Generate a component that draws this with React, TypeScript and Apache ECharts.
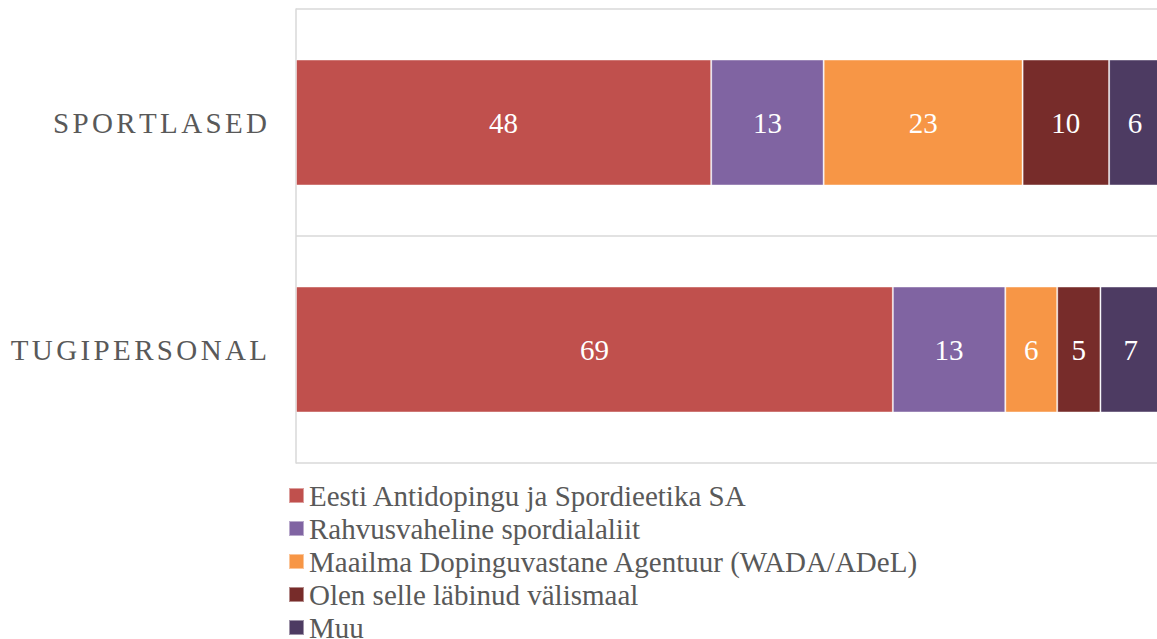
import React, { useEffect, useRef } from "react";
import * as echarts from "echarts";

const categories = ["SPORTLASED", "TUGIPERSONAL"];
const seriesNames = [
  "Eesti Antidopingu ja Spordieetika SA",
  "Rahvusvaheline spordialaliit",
  "Maailma Dopinguvastane Agentuur (WADA/ADeL)",
  "Olen selle läbinud välismaal",
  "Muu",
];
const eadsValues = [48, 69];
const alaliitValues = [13, 13];
const wadaValues = [23, 6];
const valismaalValues = [10, 5];
const muuValues = [6, 7];
const colors = ["#C0504D", "#8064A2", "#F79646", "#772C2A", "#4D3B62"];

const FONT = "'Liberation Serif', 'Times New Roman', serif";

export default function App() {
  const ref = useRef<HTMLDivElement>(null);
  useEffect(() => {
    if (!ref.current) return;
    const chart = echarts.init(ref.current, undefined, { renderer: "svg" });
    const allValues = [eadsValues, alaliitValues, wadaValues, valismaalValues, muuValues];
    chart.setOption({
      animation: false,
      textStyle: { fontFamily: FONT },
      grid: { left: 296, top: 9, bottom: 176, right: 0, containLabel: false },
      legend: {
        orient: "vertical",
        left: 288,
        top: 481,
        height: 200,
        padding: 0,
        itemWidth: 15,
        itemHeight: 15,
        itemGap: 4,
        icon: "rect",
        selectedMode: false,
        textStyle: { fontFamily: FONT, fontSize: 29, color: "#595959" },
        data: seriesNames,
      },
      xAxis: {
        type: "value",
        min: 0,
        max: 100,
        show: false,
      },
      yAxis: {
        type: "category",
        inverse: true,
        data: categories,
        axisLine: { show: true, lineStyle: { color: "#D9D9D9", width: 1.5 } },
        axisTick: { show: false },
        splitLine: { show: true, lineStyle: { color: "#D9D9D9", width: 1.5 } },
        axisLabel: {
          margin: 29,
          color: "#595959",
          fontFamily: FONT,
          fontSize: 29,
          formatter: (v: string) => v.split("").join("{s| }"),
          rich: { s: { fontSize: 13.5, fontFamily: FONT } },
        },
      },
      series: seriesNames.map((name, i) => ({
        name,
        type: "bar",
        stack: "total",
        barWidth: 126,
        data: allValues[i],
        itemStyle: {
          color: colors[i],
          borderColor: "rgba(255,255,255,0.45)",
          borderWidth: 1,
        },
        label: {
          show: true,
          position: "inside",
          color: "#FFFFFF",
          fontFamily: FONT,
          fontSize: 29,
        },
      })),
    });
    return () => chart.dispose();
  }, []);
  return (
    <div style={{ position: "fixed", left: 0, top: 0, width: 1157, height: 639, overflow: "hidden", background: "#fff" }}>
      <div ref={ref} style={{ width: 1161, height: 639 }} />
    </div>
  );
}
